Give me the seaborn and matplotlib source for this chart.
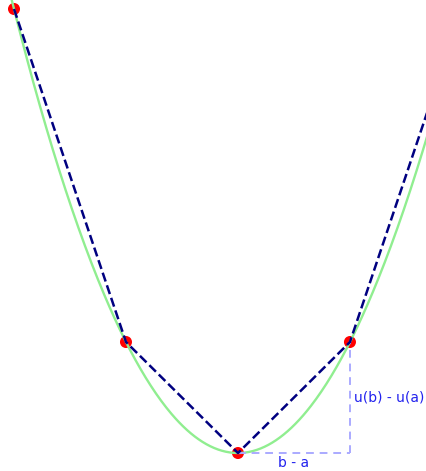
import numpy as np
import pandas as pd
import matplotlib
matplotlib.use("Agg")
import matplotlib.pyplot as plt
import seaborn as sns

# Sample points of the convex function u(x) = x^2
x_points = [-2, -1, 0, 1, 2]
u_points = [4, 1, 0, 1, 4]

# Interval used for the slope illustration
a, b = 0, 1
u_a, u_b = 0, 1

label_run = "b - a"
label_rise = "u(b) - u(a)"


def u(x):
    return x ** 2


sns.set_theme(style="white")

fig = plt.figure(figsize=(4.26, 4.71), dpi=100)
ax = fig.add_axes([0, 0, 1, 1])

# Smooth curve of the function
xs = np.linspace(-2.3, 2.3, 400)
curve = pd.DataFrame({"x": xs, "u": u(xs)})
sns.lineplot(data=curve, x="x", y="u", color="lightgreen", linewidth=1.7,
             ax=ax, sort=False, zorder=2)

# Sample points
pts = pd.DataFrame({"x": x_points, "u": u_points})
sns.scatterplot(data=pts, x="x", y="u", color="red", s=75, edgecolor="none",
                ax=ax, zorder=1)

# Rise/run triangle between a and b
ax.plot([a, b], [u_a, u_a], linestyle=(0, (4, 3)), color="#aaaaff",
        linewidth=1.4, zorder=2)
ax.plot([b, b], [u_a, u_b], linestyle=(0, (4, 3)), color="#aaaaff",
        linewidth=1.4, zorder=2)

# Secant segments between consecutive sample points
sns.lineplot(data=pts, x="x", y="u", color="navy", linewidth=1.8,
             linestyle="--", ax=ax, sort=False, zorder=3)

ax.text((a + b) / 2, u_a - 0.03, label_run, color="#2222ee", fontsize=10,
        ha="center", va="top")
ax.text(b + 0.035, (u_a + u_b) / 2, label_rise, color="#2222ee", fontsize=10,
        ha="left", va="center")

ax.set_xlim(-2.125, 1.679)
ax.set_ylim(-0.162, 4.081)
ax.set_axis_off()

fig.savefig("out.png", dpi=100)
